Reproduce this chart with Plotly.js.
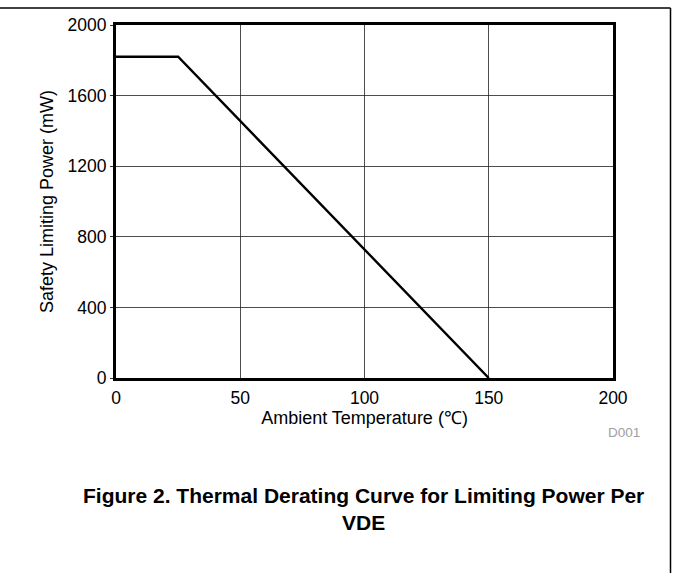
<!DOCTYPE html>
<html>
<head>
<meta charset="utf-8">
<script src="https://cdn.plot.ly/plotly-3.0.1.min.js"></script>
<style>html,body{margin:0;padding:0;background:#fff;}#chart{width:673px;height:573px;}</style>
</head>
<body>
<div id="chart"></div>
<script>
const temperature = [0, 25, 150];
const power = [1820, 1820, 0];
const xTicks = [0, 50, 100, 150, 200];
const yTicks = [0, 400, 800, 1200, 1600, 2000];
const xTitle = "Ambient Temperature (℃)";
const yTitle = "Safety Limiting Power (mW)";
const figTitle = "Figure 2. Thermal Derating Curve for Limiting Power Per<br>VDE";
const code = "D001";

const L = 116, R = 613, T = 25, B = 378;
const W = R - L, H = B - T;
const px = v => (v - L) / W;
const py = v => (B - v) / H;

const trace = {
  x: temperature, y: power, type: 'scatter', mode: 'lines',
  line: {color: '#000', width: 2.4}, hoverinfo: 'skip', showlegend: false
};

const layout = {
  width: 673, height: 573,
  margin: {l: L, r: 673 - R, t: T, b: 573 - B},
  paper_bgcolor: '#fff', plot_bgcolor: '#fff',
  font: {family: 'Liberation Sans, Arial, sans-serif', color: '#000'},
  xaxis: {
    range: [0, 200], tickvals: xTicks, ticktext: xTicks.map(String),
    showgrid: true, gridcolor: '#222', gridwidth: 0.8,
    zeroline: false, showline: true, linecolor: '#000', linewidth: 3, mirror: true,
    ticks: '', ticklabelstandoff: 2, tickfont: {size: 17.5},
    title: {text: xTitle, font: {size: 18}, standoff: 2}
  },
  yaxis: {
    range: [0, 2000], tickvals: yTicks, ticktext: yTicks.map(String),
    showgrid: true, gridcolor: '#222', gridwidth: 0.8,
    zeroline: false, showline: true, linecolor: '#000', linewidth: 3, mirror: true,
    ticks: 'outside', ticklen: 3, tickcolor: '#000', tickwidth: 0.8, tickfont: {size: 17.5},
    title: {text: yTitle, font: {size: 18}, standoff: 10}
  },
  shapes: [
    {type: 'line', xref: 'paper', yref: 'paper', x0: px(0), x1: px(670.5), y0: py(8), y1: py(8), line: {color: '#000', width: 1.5}},
    {type: 'line', xref: 'paper', yref: 'paper', x0: px(670.5), x1: px(670.5), y0: py(8), y1: py(573), line: {color: '#000', width: 1.5}}
  ],
  annotations: [
    {text: code, xref: 'paper', yref: 'paper', x: px(624), y: py(432), xanchor: 'center', yanchor: 'middle', showarrow: false, font: {size: 13.5, color: '#a0a0a0'}},
    {text: '<b>' + figTitle + '</b>', xref: 'paper', yref: 'paper', x: px(363), y: py(509), xanchor: 'center', yanchor: 'middle', showarrow: false, font: {size: 21}, align: 'center'}
  ]
};

Plotly.newPlot('chart', [trace], layout, {displayModeBar: false, staticPlot: true});
</script>
</body>
</html>
